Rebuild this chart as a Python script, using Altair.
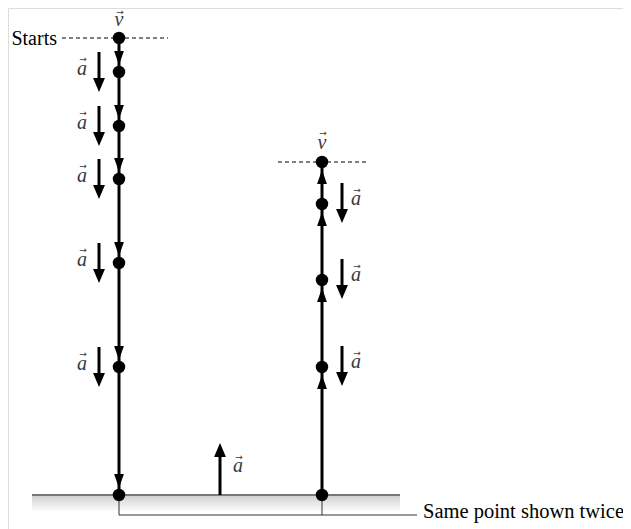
import altair as alt
import pandas as pd

# ---- diagram values (pixel-space positions of the motion diagram) ----
left_x = 119
right_x = 322
left_dots_y = [38, 72, 126, 179, 263, 367, 495]
right_dots_y = [495, 367, 280, 204, 162]
left_acc_dots = [72, 126, 179, 263, 367]
right_acc_dots = [204, 280, 367]
ground_y = 495
ground_x = [32, 400]
bracket_y = 515
bracket_end_x = 417
up_acc_x = 220
up_acc_top = 443

FONT = "Liberation Serif"

xs = alt.Scale(domain=[8, 623], nice=False, zero=False)
ys = alt.Scale(domain=[8, 529], nice=False, zero=False, reverse=True)

def X(f="x"):
    return alt.X(f"{f}:Q", scale=xs, axis=None)

def Y(f="y"):
    return alt.Y(f"{f}:Q", scale=ys, axis=None)

DOWN = "M -0.7 -1 L 0.7 -1 L 0 1 Z"
UP = "M -0.7 1 L 0.7 1 L 0 -1 Z"
DOWN_W = "M -0.85 -1 L 0.85 -1 L 0 1 Z"
UP_W = "M -0.85 1 L 0.85 1 L 0 -1 Z"

layers = []

# ground shading
shade_rows = []
for i in range(8):
    shade_rows.append({"x": ground_x[0], "x2": ground_x[1], "y": ground_y + 2 * i, "y2": ground_y + 2 * i + 2,
                       "o": 0.38 * (1 - i / 8)})
layers.append(alt.Chart(pd.DataFrame(shade_rows)).mark_rect(color="#888888").encode(
    x=X(), x2="x2:Q", y=Y(), y2="y2:Q", opacity=alt.Opacity("o:Q", scale=None, legend=None)))

# ground line
layers.append(alt.Chart(pd.DataFrame([{"x": ground_x[0], "x2": ground_x[1], "y": ground_y}])).mark_rule(
    color="#777777", strokeWidth=2).encode(x=X(), x2="x2:Q", y=Y()))

# bracket
br = pd.DataFrame([
    {"x": left_x, "x2": left_x, "y": ground_y, "y2": bracket_y},
    {"x": right_x, "x2": right_x, "y": ground_y, "y2": bracket_y},
    {"x": left_x, "x2": bracket_end_x, "y": bracket_y, "y2": bracket_y},
])
layers.append(alt.Chart(br).mark_rule(color="#333333", strokeWidth=1).encode(
    x=X(), x2="x2:Q", y=Y(), y2="y2:Q"))

# dashed lines
dash = pd.DataFrame([
    {"x": 62, "x2": 168, "y": left_dots_y[0]},
    {"x": 278, "x2": 368, "y": right_dots_y[-1]},
])
layers.append(alt.Chart(dash).mark_rule(color="black", strokeWidth=1, strokeDash=[4, 3]).encode(
    x=X(), x2="x2:Q", y=Y()))

# motion shafts
shafts = []
for i in range(len(left_dots_y) - 1):
    shafts.append({"x": left_x, "y": left_dots_y[i], "y2": left_dots_y[i + 1]})
for i in range(len(right_dots_y) - 1):
    shafts.append({"x": right_x, "y": right_dots_y[i], "y2": right_dots_y[i + 1]})
# acceleration shafts
for d in left_acc_dots:
    shafts.append({"x": 99, "y": d - 20, "y2": d + 8})
for d in right_acc_dots:
    shafts.append({"x": 342, "y": d - 21, "y2": d + 7})
shafts.append({"x": up_acc_x, "y": ground_y, "y2": up_acc_top + 10})
layers.append(alt.Chart(pd.DataFrame(shafts)).mark_rule(color="black", strokeWidth=3).encode(
    x=X(), y=Y(), y2="y2:Q"))

# motion arrowheads
down_heads = [{"x": left_x, "y": left_dots_y[i + 1] - 14} for i in range(len(left_dots_y) - 1)]
up_heads = [{"x": right_x, "y": right_dots_y[i + 1] + 15} for i in range(len(right_dots_y) - 1)]
layers.append(alt.Chart(pd.DataFrame(down_heads)).mark_point(
    shape=DOWN, filled=True, color="black", size=196, opacity=1, strokeWidth=0).encode(x=X(), y=Y()))
layers.append(alt.Chart(pd.DataFrame(up_heads)).mark_point(
    shape=UP, filled=True, color="black", size=196, opacity=1, strokeWidth=0).encode(x=X(), y=Y()))

# acceleration arrowheads
acc_down = [{"x": 99, "y": d + 13} for d in left_acc_dots] + [{"x": 342, "y": d + 12} for d in right_acc_dots]
acc_up = [{"x": up_acc_x, "y": up_acc_top + 7}]
layers.append(alt.Chart(pd.DataFrame(acc_down)).mark_point(
    shape=DOWN_W, filled=True, color="black", size=196, opacity=1, strokeWidth=0).encode(x=X(), y=Y()))
layers.append(alt.Chart(pd.DataFrame(acc_up)).mark_point(
    shape=UP_W, filled=True, color="black", size=196, opacity=1, strokeWidth=0).encode(x=X(), y=Y()))

# dots
dots = [{"x": left_x, "y": v} for v in left_dots_y] + [{"x": right_x, "y": v} for v in right_dots_y]
layers.append(alt.Chart(pd.DataFrame(dots)).mark_circle(color="black", size=155, opacity=1).encode(
    x=X(), y=Y()))

# italic vector letters (baseline positions)
letters = [{"x": 82, "y": d + 3, "t": "a"} for d in left_acc_dots]
letters += [{"x": 356, "y": d + 1, "t": "a"} for d in right_acc_dots]
letters += [{"x": 238, "y": 472, "t": "a"}]
letters += [{"x": 119, "y": 26, "t": "v"}, {"x": 322, "y": 149, "t": "v"}]
layers.append(alt.Chart(pd.DataFrame(letters)).mark_text(
    font=FONT, fontStyle="italic", fontSize=20, color="#3a3a3a", align="center", baseline="alphabetic").encode(
    x=X(), y=Y(), text="t:N"))

# small vector arrows above letters
vec_arrows = [{"x": 83, "y": d - 13} for d in left_acc_dots]
vec_arrows += [{"x": 357, "y": d - 14} for d in right_acc_dots]
vec_arrows += [{"x": 239, "y": 457}, {"x": 120, "y": 12}, {"x": 323, "y": 133}]
vec_arrows = [dict(r, t="\u2192") for r in vec_arrows]
layers.append(alt.Chart(pd.DataFrame(vec_arrows)).mark_text(
    font="DejaVu Sans", fontSize=9, color="#3a3a3a", align="center", baseline="middle").encode(
    x=X(), y=Y(), text="t:N"))

# plain labels
layers.append(alt.Chart(pd.DataFrame([{"x": 57, "y": 45, "t": "Starts"}])).mark_text(
    font=FONT, fontSize=20, color="black", align="right", baseline="alphabetic").encode(x=X(), y=Y(), text="t:N"))
layers.append(alt.Chart(pd.DataFrame([{"x": 423, "y": 518, "t": "Same point shown twice"}])).mark_text(
    font=FONT, fontSize=20.5, color="black", align="left", baseline="alphabetic").encode(x=X(), y=Y(), text="t:N"))

chart = alt.layer(*layers).properties(
    width=615, height=521, padding=0, autosize=alt.AutoSizeParams(type="none")
).configure_view(strokeWidth=0).configure(background="white")

chart.save("out.html", embed_options={"renderer": "svg", "actions": False})
